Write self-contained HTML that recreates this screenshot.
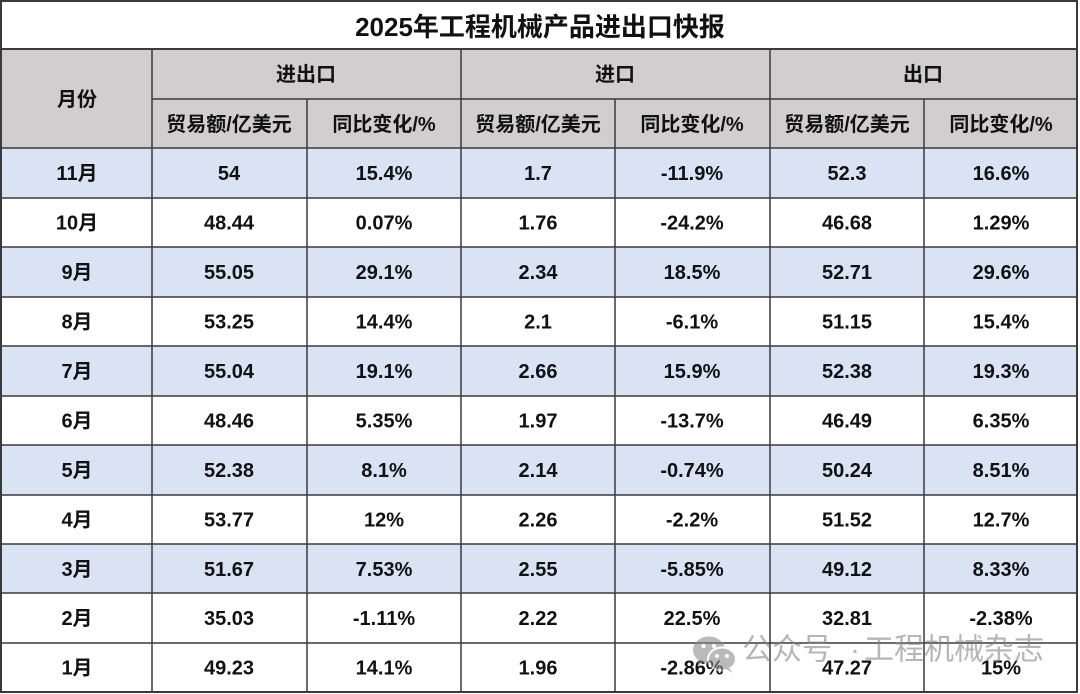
<!DOCTYPE html>
<html>
<head>
<meta charset="utf-8">
<style>
html,body{margin:0;padding:0;background:#fff;}
body{width:1080px;height:694px;overflow:hidden;}
svg{display:block;}
text{font-family:"Liberation Sans","Noto Sans CJK SC",sans-serif;font-weight:bold;fill:#111;}
.t{font-size:20px;}
.wm{font-family:"Liberation Sans","Noto Sans CJK SC",sans-serif;font-weight:normal;font-size:30px;fill:rgba(130,130,130,0.58);}
</style>
</head>
<body>
<svg width="1080" height="694" viewBox="0 0 1080 694" xmlns="http://www.w3.org/2000/svg">
  <rect x="0" y="0" width="1080" height="694" fill="#fff"/>
  <rect x="1" y="49" width="1076" height="99" fill="#d0cece"/>
  <rect x="1" y="148" width="1076" height="50" fill="#dae3f3"/>
  <rect x="1" y="247" width="1076" height="50" fill="#dae3f3"/>
  <rect x="1" y="346" width="1076" height="50" fill="#dae3f3"/>
  <rect x="1" y="445" width="1076" height="50" fill="#dae3f3"/>
  <rect x="1" y="544" width="1076" height="49" fill="#dae3f3"/>

  <g stroke="#3a3a3a" stroke-width="1.5" fill="none">
    <rect x="1" y="1" width="1076" height="691" stroke-width="2"/>
    <line x1="1" y1="49" x2="1077" y2="49" stroke-width="2"/>
    <line x1="152" y1="99" x2="1077" y2="99"/>
    <line x1="1" y1="148" x2="1077" y2="148"/>
    <line x1="1" y1="198" x2="1077" y2="198"/>
    <line x1="1" y1="247" x2="1077" y2="247"/>
    <line x1="1" y1="297" x2="1077" y2="297"/>
    <line x1="1" y1="346" x2="1077" y2="346"/>
    <line x1="1" y1="396" x2="1077" y2="396"/>
    <line x1="1" y1="445" x2="1077" y2="445"/>
    <line x1="1" y1="495" x2="1077" y2="495"/>
    <line x1="1" y1="544" x2="1077" y2="544"/>
    <line x1="1" y1="593" x2="1077" y2="593"/>
    <line x1="1" y1="643" x2="1077" y2="643"/>
    <line x1="152" y1="49" x2="152" y2="692"/>
    <line x1="461" y1="49" x2="461" y2="692"/>
    <line x1="770" y1="49" x2="770" y2="692"/>
    <line x1="307" y1="99" x2="307" y2="692"/>
    <line x1="615" y1="99" x2="615" y2="692"/>
    <line x1="924" y1="99" x2="924" y2="692"/>
  </g>

  <text x="540" y="27" font-size="26" text-anchor="middle" dominant-baseline="central">2025年工程机械产品进出口快报</text>

  <g class="t" text-anchor="middle" dominant-baseline="central">
    <text x="77" y="100" class="t">月份</text>
    <text x="306" y="75" class="t">进出口</text>
    <text x="615" y="75" class="t">进口</text>
    <text x="923" y="75" class="t">出口</text>
    <text x="229" y="125" class="t">贸易额/亿美元</text>
    <text x="384" y="125" class="t">同比变化/%</text>
    <text x="538" y="125" class="t">贸易额/亿美元</text>
    <text x="692" y="125" class="t">同比变化/%</text>
    <text x="847" y="125" class="t">贸易额/亿美元</text>
    <text x="1001" y="125" class="t">同比变化/%</text>
  </g>

  <g text-anchor="middle" dominant-baseline="central">
    <g transform="translate(0,174)">
      <text x="77" class="t">11月</text><text x="229" class="t">54</text><text x="384" class="t">15.4%</text><text x="538" class="t">1.7</text><text x="692" class="t">-11.9%</text><text x="847" class="t">52.3</text><text x="1001" class="t">16.6%</text>
    </g>
    <g transform="translate(0,223.5)">
      <text x="77" class="t">10月</text><text x="229" class="t">48.44</text><text x="384" class="t">0.07%</text><text x="538" class="t">1.76</text><text x="692" class="t">-24.2%</text><text x="847" class="t">46.68</text><text x="1001" class="t">1.29%</text>
    </g>
    <g transform="translate(0,273)">
      <text x="77" class="t">9月</text><text x="229" class="t">55.05</text><text x="384" class="t">29.1%</text><text x="538" class="t">2.34</text><text x="692" class="t">18.5%</text><text x="847" class="t">52.71</text><text x="1001" class="t">29.6%</text>
    </g>
    <g transform="translate(0,322.5)">
      <text x="77" class="t">8月</text><text x="229" class="t">53.25</text><text x="384" class="t">14.4%</text><text x="538" class="t">2.1</text><text x="692" class="t">-6.1%</text><text x="847" class="t">51.15</text><text x="1001" class="t">15.4%</text>
    </g>
    <g transform="translate(0,372)">
      <text x="77" class="t">7月</text><text x="229" class="t">55.04</text><text x="384" class="t">19.1%</text><text x="538" class="t">2.66</text><text x="692" class="t">15.9%</text><text x="847" class="t">52.38</text><text x="1001" class="t">19.3%</text>
    </g>
    <g transform="translate(0,421.5)">
      <text x="77" class="t">6月</text><text x="229" class="t">48.46</text><text x="384" class="t">5.35%</text><text x="538" class="t">1.97</text><text x="692" class="t">-13.7%</text><text x="847" class="t">46.49</text><text x="1001" class="t">6.35%</text>
    </g>
    <g transform="translate(0,471)">
      <text x="77" class="t">5月</text><text x="229" class="t">52.38</text><text x="384" class="t">8.1%</text><text x="538" class="t">2.14</text><text x="692" class="t">-0.74%</text><text x="847" class="t">50.24</text><text x="1001" class="t">8.51%</text>
    </g>
    <g transform="translate(0,520.5)">
      <text x="77" class="t">4月</text><text x="229" class="t">53.77</text><text x="384" class="t">12%</text><text x="538" class="t">2.26</text><text x="692" class="t">-2.2%</text><text x="847" class="t">51.52</text><text x="1001" class="t">12.7%</text>
    </g>
    <g transform="translate(0,570)">
      <text x="77" class="t">3月</text><text x="229" class="t">51.67</text><text x="384" class="t">7.53%</text><text x="538" class="t">2.55</text><text x="692" class="t">-5.85%</text><text x="847" class="t">49.12</text><text x="1001" class="t">8.33%</text>
    </g>
    <g transform="translate(0,619)">
      <text x="77" class="t">2月</text><text x="229" class="t">35.03</text><text x="384" class="t">-1.11%</text><text x="538" class="t">2.22</text><text x="692" class="t">22.5%</text><text x="847" class="t">32.81</text><text x="1001" class="t">-2.38%</text>
    </g>
    <g transform="translate(0,668.5)">
      <text x="77" class="t">1月</text><text x="229" class="t">49.23</text><text x="384" class="t">14.1%</text><text x="538" class="t">1.96</text><text x="692" class="t">-2.86%</text><text x="847" class="t">47.27</text><text x="1001" class="t">15%</text>
    </g>
  </g>

  <g opacity="0.58">
    <ellipse cx="709" cy="650" rx="16" ry="13.5" fill="#8a8a8a"/>
    <path d="M699 659 L697 666 L705 661 Z" fill="#8a8a8a"/>
    <circle cx="703.5" cy="646" r="2.2" fill="#fff"/>
    <circle cx="714" cy="646" r="2.2" fill="#fff"/>
    <ellipse cx="722" cy="659" rx="14" ry="11.5" fill="#8a8a8a" stroke="#fff" stroke-width="2"/>
    <path d="M729 668 L733 673 L726 669 Z" fill="#8a8a8a"/>
    <circle cx="717" cy="656" r="2" fill="#fff"/>
    <circle cx="727" cy="656" r="2" fill="#fff"/>
  </g>
  <text class="wm" x="742" y="650" dominant-baseline="central">公众号</text>
  <text class="wm" x="855" y="650" text-anchor="middle" dominant-baseline="central">·</text>
  <text class="wm" x="864" y="650" dominant-baseline="central">工程机械杂志</text>
</svg>
</body>
</html>
